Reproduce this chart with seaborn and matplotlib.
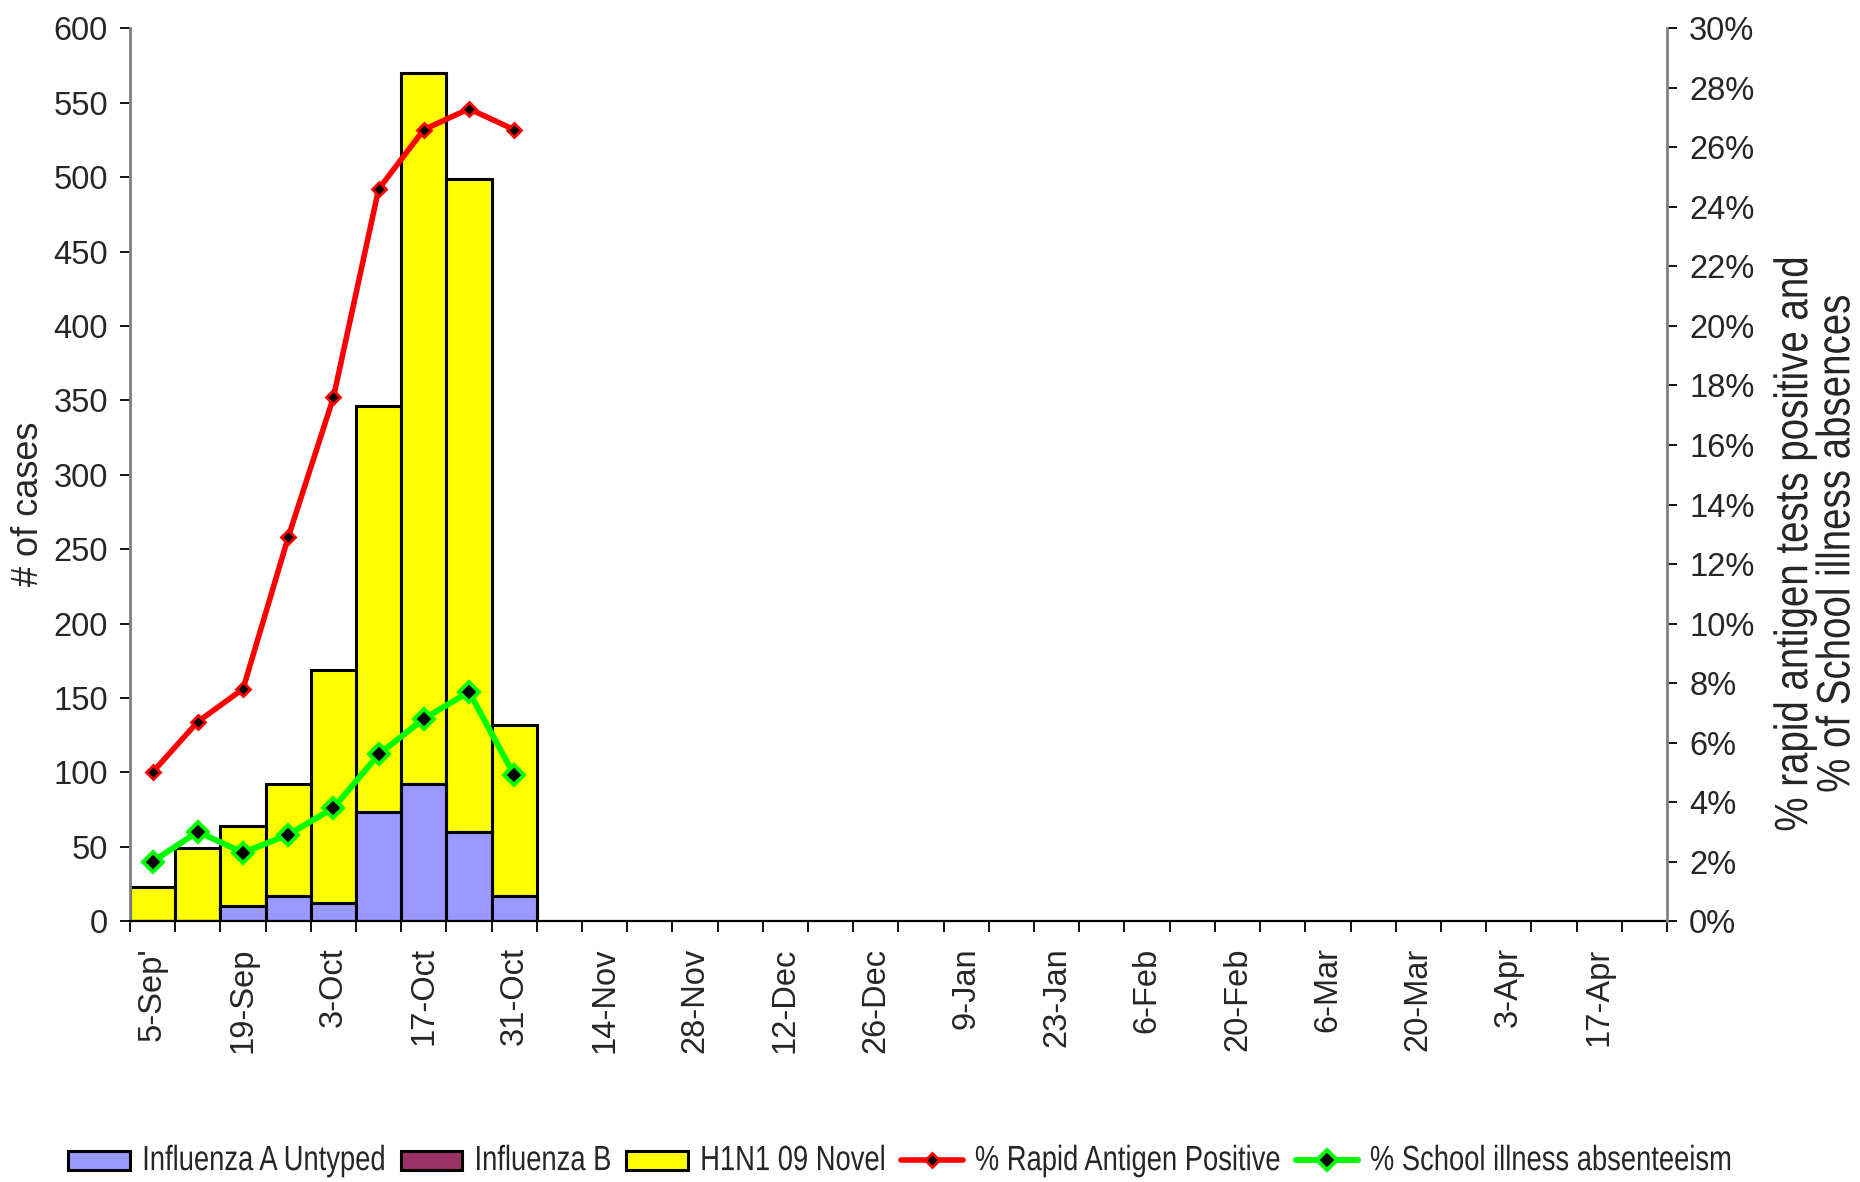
import numpy as np
import pandas as pd
import matplotlib
matplotlib.use("Agg")
import matplotlib.pyplot as plt
import seaborn as sns
from matplotlib.patches import Patch
from matplotlib.lines import Line2D
from matplotlib.ticker import PercentFormatter, MultipleLocator
from matplotlib.patheffects import AbstractPathEffect
from matplotlib.transforms import Affine2D

# ---------------- data ----------------
weeks = ["5-Sep", "12-Sep", "19-Sep", "26-Sep", "3-Oct", "10-Oct", "17-Oct", "24-Oct",
         "31-Oct", "7-Nov", "14-Nov", "21-Nov", "28-Nov", "5-Dec", "12-Dec", "19-Dec",
         "26-Dec", "2-Jan", "9-Jan", "16-Jan", "23-Jan", "30-Jan", "6-Feb", "13-Feb",
         "20-Feb", "27-Feb", "6-Mar", "13-Mar", "20-Mar", "27-Mar", "3-Apr", "10-Apr",
         "17-Apr", "24-Apr"]
tick_labels = ["5-Sep'", "19-Sep", "3-Oct", "17-Oct", "31-Oct", "14-Nov", "28-Nov",
               "12-Dec", "26-Dec", "9-Jan", "23-Jan", "6-Feb", "20-Feb", "6-Mar",
               "20-Mar", "3-Apr", "17-Apr"]

data_weeks = ["5-Sep", "12-Sep", "19-Sep", "26-Sep", "3-Oct", "10-Oct", "17-Oct",
              "24-Oct", "31-Oct"]
flu_a_untyped = [0, 0, 10, 17, 12, 73, 92, 60, 17]
flu_b = [0, 0, 0, 0, 0, 0, 0, 0, 0]
h1n1_novel = [23, 49, 54, 75, 157, 273, 478, 439, 115]
rapid_antigen_pct = [5.0, 6.7, 7.8, 12.9, 17.6, 24.6, 26.6, 27.3, 26.6]
school_absent_pct = [2.0, 3.0, 2.3, 2.9, 3.8, 5.6, 6.8, 7.7, 4.9]

# ---------------- style ----------------
C_A = "#9999FF"
C_B = "#993366"
C_H = "#FFFF00"
C_RED = "#FF0000"
C_GREEN = "#00FF00"
GRAY = "#808080"


class Stretch(AbstractPathEffect):
    """Stretch glyphs vertically (in text-local coordinates) to mimic a
    condensed typeface."""
    def __init__(self, sy):
        super().__init__()
        self.sy = sy

    def draw_path(self, renderer, gc, tpath, affine, rgbFace=None):
        renderer.draw_path(gc, tpath, Affine2D().scale(1.0, self.sy) + affine, rgbFace)


sns.set_style("white")
plt.rcParams["font.family"] = ["Liberation Sans", "DejaVu Sans"]

fig = plt.figure(figsize=(18.6, 11.82), dpi=100)
ax = fig.add_axes([0.0699, 0.2208, 0.8263, 0.7551])

df = pd.DataFrame({"week": data_weeks,
                   "a": flu_a_untyped, "b": flu_b, "h": h1n1_novel})
df["ab"] = df["a"] + df["b"]
df["total"] = df["ab"] + df["h"]

common = dict(order=weeks, width=1.0, edgecolor="black", linewidth=2.2,
              saturation=1, ax=ax)
sns.barplot(data=df, x="week", y="total", color=C_H, **common)
sns.barplot(data=df, x="week", y="ab", color=C_B, **common)
sns.barplot(data=df, x="week", y="a", color=C_A, **common)

ax.set_xlim(-0.5, len(weeks) - 0.5)
ax.set_ylim(0, 600)
ax.yaxis.set_major_locator(MultipleLocator(50))
ax.set_xticks(np.arange(0, len(weeks), 2))
ax.set_xticklabels(tick_labels, rotation=90, fontsize=23.5)
ax.set_xticks(np.arange(-0.5, len(weeks), 1), minor=True)
ax.tick_params(axis="x", which="major", length=0, pad=19)
ax.tick_params(axis="x", which="minor", length=8, width=1.3, color="black",
               direction="out", bottom=True)
ax.tick_params(axis="y", which="major", length=7, width=1.3, color="black",
               direction="out", labelsize=23.5, pad=9, left=True)
ax.set_xlabel("")
ax.set_ylabel("# of cases", fontsize=26, va="center")
ax.yaxis.set_label_coords(-0.066, 0.467)

for s in ["top", "right"]:
    ax.spines[s].set_visible(False)
ax.spines["left"].set_color(GRAY)
ax.spines["left"].set_linewidth(2)
ax.spines["bottom"].set_color("black")
ax.spines["bottom"].set_linewidth(1.6)

# ---------------- lines on secondary axis ----------------
ax2 = ax.twinx()
xpos = np.arange(len(data_weeks))
red_kw = dict(color=C_RED, linewidth=4, marker="D", markersize=7,
              markerfacecolor="black", markeredgecolor=C_RED, markeredgewidth=2)
green_kw = dict(color=C_GREEN, linewidth=4.3, marker="D", markersize=10,
                markerfacecolor="black", markeredgecolor=C_GREEN, markeredgewidth=2.8)
sns.lineplot(x=xpos, y=rapid_antigen_pct, ax=ax2, **red_kw)
sns.lineplot(x=xpos, y=school_absent_pct, ax=ax2, **green_kw)
ax2.set_ylim(0, 30)
ax2.yaxis.set_major_locator(MultipleLocator(2))
ax2.yaxis.set_major_formatter(PercentFormatter(decimals=0))
ax2.tick_params(axis="y", which="major", length=7, width=1.3, color="black",
                direction="out", labelsize=23.5, pad=9, right=True)
for s in ["top", "left", "bottom"]:
    ax2.spines[s].set_visible(False)
ax2.spines["right"].set_color(GRAY)
ax2.spines["right"].set_linewidth(2)
ylab = ax2.set_ylabel("% rapid antigen tests positive and\n% of School illness absences",
                      fontsize=27.7, va="center", ha="center",
                      multialignment="center", linespacing=1.22)
ylab.set_path_effects([Stretch(1.22)])
ax2.yaxis.set_label_coords(1.0985, 0.423)
ax2.set_xlim(-0.5, len(weeks) - 0.5)

# ---------------- legend ----------------
handles = [
    Patch(facecolor=C_A, edgecolor="black", linewidth=2.2),
    Patch(facecolor=C_B, edgecolor="black", linewidth=2.2),
    Patch(facecolor=C_H, edgecolor="black", linewidth=2.2),
    Line2D([], [], **red_kw),
    Line2D([], [], **green_kw),
]
labels = ["Influenza A Untyped", "Influenza B", "H1N1 09 Novel",
          "% Rapid Antigen Positive", "% School illness absenteeism"]
leg = fig.legend(handles, labels, loc="center", bbox_to_anchor=(0.484, 0.016), ncol=5,
                 frameon=False, prop={"size": 19.7},
                 handlelength=2.26, handleheight=0.73, handletextpad=0.44,
                 columnspacing=0.55, borderaxespad=0)
for t in leg.get_texts():
    t.set_path_effects([Stretch(1.28)])

fig.savefig("out.png", dpi=100)
